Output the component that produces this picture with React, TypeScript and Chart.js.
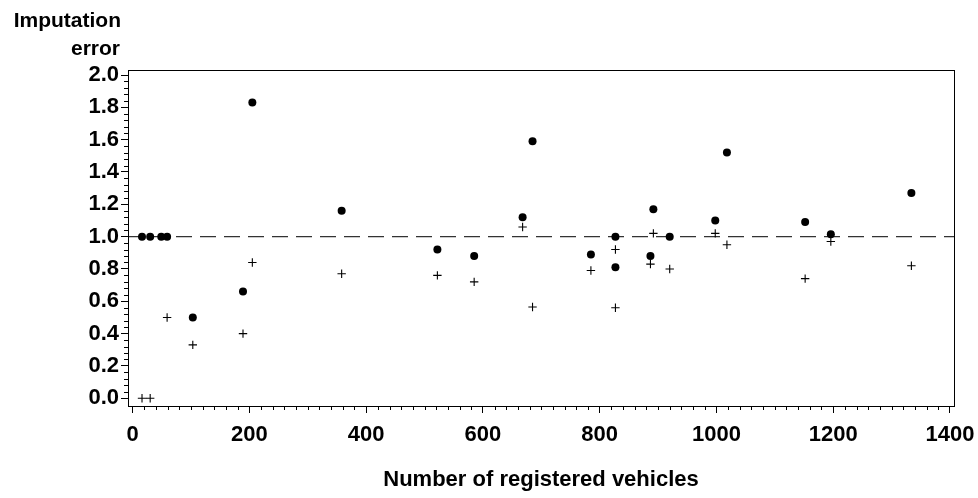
import React, { useEffect, useRef } from "react";
import { Chart, registerables } from "chart.js";

Chart.register(...registerables);

// Imputation error per municipality, two estimators, against fleet size
const vehiclesDot = [16, 30, 49, 59, 103, 189, 205, 358, 522, 585, 668, 685, 785, 827, 827, 887, 892, 920, 998, 1018, 1152, 1196, 1334];
const errorDot = [1.0, 1.0, 1.0, 1.0, 0.5, 0.66, 1.83, 1.16, 0.92, 0.88, 1.12, 1.59, 0.89, 1.0, 0.81, 0.88, 1.17, 1.0, 1.1, 1.52, 1.09, 1.015, 1.27];

const vehiclesPlus = [16, 30, 59, 103, 189, 205, 358, 522, 585, 668, 685, 785, 827, 827, 887, 892, 920, 998, 1018, 1152, 1196, 1334];
const errorPlus = [0, 0, 0.5, 0.33, 0.4, 0.84, 0.77, 0.76, 0.72, 1.06, 0.565, 0.79, 0.92, 0.56, 0.83, 1.02, 0.8, 1.02, 0.95, 0.74, 0.97, 0.82];

const xTicks = [0, 200, 400, 600, 800, 1000, 1200, 1400];
const yTicks = [0, 0.2, 0.4, 0.6, 0.8, 1.0, 1.2, 1.4, 1.6, 1.8, 2.0];
const referenceLevel = 1.0;

const X_MIN = -8;
const X_MAX = 1407;
const Y_MIN = -0.048;
const Y_MAX = 2.031;

const FONT = '"Liberation Sans", Arial, Helvetica, sans-serif';

const toPoints = (xs: number[], ys: number[]) => xs.map((x, i) => ({ x, y: ys[i] }));

// Frame, minor tick marks and axis titles
const decorations = {
  id: "decorations",
  afterDraw(chart: any) {
    const { ctx, chartArea } = chart;
    const { left, right, top, bottom } = chartArea;
    const xs = chart.scales.x;
    const ys = chart.scales.y;
    ctx.save();
    ctx.strokeStyle = "#000";
    ctx.lineWidth = 1;
    ctx.strokeRect(Math.round(left) + 0.5, Math.round(top) + 0.5, Math.round(right - left), Math.round(bottom - top));

    ctx.beginPath();
    for (let v = 0; v <= 1400; v += 20) {
      if (v % 200 === 0) continue;
      const px = Math.round(xs.getPixelForValue(v)) + 0.5;
      ctx.moveTo(px, Math.round(bottom));
      ctx.lineTo(px, Math.round(bottom) + 4);
    }
    for (let k = 0; k <= 50; k++) {
      if (k % 5 === 0) continue;
      const py = Math.round(ys.getPixelForValue(k * 0.04)) + 0.5;
      ctx.moveTo(Math.round(left) - 4, py);
      ctx.lineTo(Math.round(left), py);
    }
    ctx.stroke();

    ctx.fillStyle = "#000";
    ctx.font = `bold 21px ${FONT}`;
    ctx.textAlign = "right";
    ctx.textBaseline = "alphabetic";
    ctx.fillText("Imputation", 121, 27);
    ctx.fillText("error", 120, 55);

    ctx.font = `bold 22px ${FONT}`;
    ctx.textAlign = "center";
    ctx.fillText("Number of registered vehicles", (left + right) / 2, 486);
    ctx.restore();
  },
};

export default function App() {
  const canvasRef = useRef<HTMLCanvasElement | null>(null);

  useEffect(() => {
    const canvas = canvasRef.current;
    if (!canvas) return;
    const chart = new Chart(canvas, {
      type: "scatter",
      data: {
        datasets: [
          {
            label: "Estimator A",
            data: toPoints(vehiclesDot, errorDot),
            pointStyle: "circle",
            pointRadius: 4,
            backgroundColor: "#000",
            borderColor: "#000",
            borderWidth: 0,
            order: 1,
          },
          {
            label: "Estimator B",
            data: toPoints(vehiclesPlus, errorPlus),
            pointStyle: "cross",
            pointRadius: 4.2,
            backgroundColor: "#000",
            borderColor: "#000",
            borderWidth: 1.1,
            order: 2,
          },
          {
            label: "Reference",
            data: [
              { x: X_MIN, y: referenceLevel },
              { x: X_MAX, y: referenceLevel },
            ],
            showLine: true,
            pointRadius: 0,
            borderColor: "#333",
            borderWidth: 1.2,
            borderDash: [16, 8],
            order: 3,
          },
        ],
      },
      options: {
        animation: false,
        responsive: true,
        maintainAspectRatio: false,
        events: [],
        layout: { padding: { top: 70, right: 24, left: 0, bottom: 0 } },
        plugins: { legend: { display: false }, tooltip: { enabled: false } },
        scales: {
          x: {
            type: "linear",
            min: X_MIN,
            max: X_MAX,
            afterBuildTicks: (s: any) => {
              s.ticks = xTicks.map((v) => ({ value: v }));
            },
            afterFit: (s: any) => {
              s.height = 92;
              s.paddingLeft = 0;
              s.paddingRight = 0;
            },
            border: { display: false },
            grid: { drawOnChartArea: false, drawTicks: true, tickLength: 7, color: "#000", lineWidth: 1 },
            ticks: {
              color: "#000",
              padding: 9,
              maxRotation: 0,
              autoSkip: false,
              font: { family: FONT, size: 22, weight: "bold" },
              callback: (v: any) => String(v),
            },
          },
          y: {
            type: "linear",
            min: Y_MIN,
            max: Y_MAX,
            afterBuildTicks: (s: any) => {
              s.ticks = yTicks.map((v) => ({ value: v }));
            },
            afterFit: (s: any) => {
              s.width = 128;
              s.paddingTop = 0;
              s.paddingBottom = 0;
            },
            border: { display: false },
            grid: { drawOnChartArea: false, drawTicks: true, tickLength: 7, color: "#000", lineWidth: 1 },
            ticks: {
              color: "#000",
              padding: 2,
              autoSkip: false,
              font: { family: FONT, size: 22, weight: "bold" },
              callback: (v: any) => Number(v).toFixed(1),
            },
          },
        },
      },
      plugins: [decorations],
    });
    return () => chart.destroy();
  }, []);

  return (
    <div style={{ position: "absolute", left: 0, top: 0, width: 978, height: 498, background: "#fff" }}>
      <canvas ref={canvasRef} />
    </div>
  );
}
